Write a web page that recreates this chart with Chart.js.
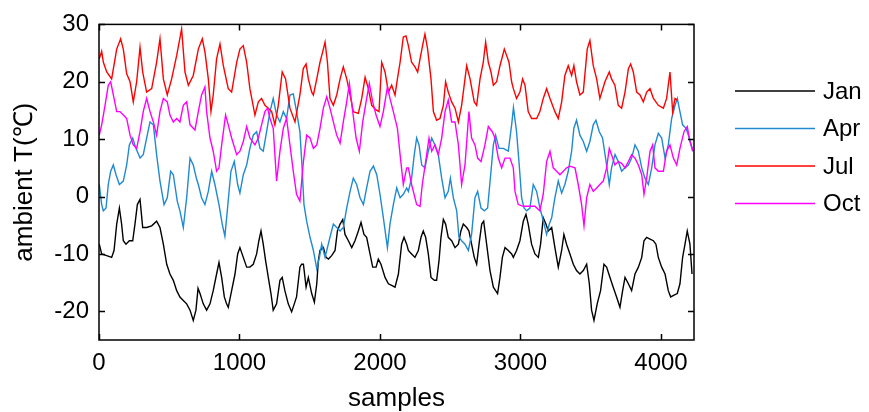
<!DOCTYPE html>
<html>
<head>
<meta charset="utf-8">
<script src="https://cdn.jsdelivr.net/npm/chart.js@4.4.0/dist/chart.umd.min.js"></script>
<style>
  html, body { margin: 0; padding: 0; background: #fff; }
  #wrap { width: 869px; height: 412px; }
</style>
</head>
<body>
<div id="wrap"><canvas id="tChart"></canvas></div>
<script>
// [sample, ambient temperature]
const jan = [[2,-8.3],[19,-10.0],[55,-10.3],[90,-10.6],[107,-9.4],[126,-4.8],[145,-2.0],[161,-4.8],[173,-7.7],[192,-8.3],[216,-7.7],[240,-7.7],[256,-4.8],[273,-1.4],[292,-0.5],[311,-5.4],[339,-5.4],[375,-5.1],[410,-4.3],[434,-5.4],[458,-8.3],[482,-11.8],[505,-13.5],[529,-14.6],[553,-16.4],[576,-17.5],[600,-18.1],[624,-18.7],[648,-19.8],[671,-21.6],[690,-19.8],[705,-16.0],[719,-16.9],[742,-18.7],[766,-19.8],[790,-18.7],[813,-16.4],[837,-13.5],[854,-11.5],[873,-14.1],[892,-17.5],[908,-18.7],[920,-19.3],[944,-16.4],[968,-13.5],[987,-10.0],[1003,-8.9],[1027,-10.6],[1051,-12.3],[1074,-12.3],[1098,-11.8],[1122,-10.0],[1138,-7.7],[1153,-6.0],[1169,-8.3],[1186,-11.2],[1205,-14.1],[1224,-16.9],[1240,-19.8],[1264,-18.7],[1288,-14.6],[1304,-14.1],[1323,-16.4],[1347,-18.7],[1371,-20.1],[1390,-18.7],[1406,-17.5],[1430,-12.3],[1442,-11.8],[1455,-11.8],[1474,-15.8],[1490,-14.1],[1514,-16.9],[1533,-18.4],[1550,-15.2],[1561,-11.2],[1573,-9.4],[1597,-8.9],[1616,-10.6],[1633,-10.9],[1656,-10.3],[1680,-9.4],[1697,-6.0],[1716,-4.8],[1735,-4.0],[1751,-6.6],[1775,-7.7],[1799,-8.9],[1822,-7.7],[1846,-6.0],[1865,-4.5],[1886,-6.6],[1905,-7.1],[1929,-10.0],[1948,-12.3],[1972,-12.3],[1988,-10.9],[2007,-11.8],[2036,-14.1],[2060,-15.2],[2083,-15.5],[2107,-15.8],[2131,-13.5],[2154,-8.3],[2171,-7.1],[2190,-8.3],[2202,-9.4],[2225,-10.0],[2249,-10.6],[2273,-9.4],[2292,-7.1],[2308,-6.0],[2325,-7.1],[2344,-10.0],[2363,-14.1],[2387,-14.6],[2403,-14.6],[2420,-11.2],[2434,-7.1],[2451,-4.0],[2467,-4.8],[2486,-7.1],[2510,-7.7],[2534,-8.9],[2558,-8.3],[2576,-6.0],[2593,-4.8],[2617,-5.4],[2633,-6.0],[2652,-8.3],[2671,-10.6],[2688,-11.8],[2705,-8.3],[2724,-4.8],[2738,-4.3],[2759,-8.3],[2783,-12.9],[2807,-15.8],[2823,-16.4],[2837,-16.9],[2854,-14.1],[2871,-10.6],[2890,-8.9],[2913,-9.4],[2937,-10.0],[2949,-10.6],[2972,-9.4],[2996,-7.7],[3020,-4.3],[3039,-3.1],[3055,-4.8],[3079,-8.3],[3103,-10.0],[3127,-10.6],[3143,-8.3],[3162,-3.7],[3181,-4.8],[3198,-6.0],[3222,-5.4],[3245,-8.9],[3269,-12.3],[3293,-9.4],[3309,-6.6],[3328,-8.3],[3352,-10.0],[3376,-11.8],[3399,-12.9],[3423,-13.5],[3447,-12.9],[3471,-11.8],[3490,-15.2],[3506,-19.8],[3523,-21.6],[3546,-18.7],[3570,-16.4],[3594,-11.8],[3613,-12.3],[3637,-14.1],[3660,-15.8],[3684,-17.5],[3708,-19.3],[3727,-16.4],[3744,-14.1],[3768,-15.2],[3791,-16.4],[3815,-13.5],[3839,-12.3],[3863,-10.6],[3879,-7.7],[3898,-7.1],[3922,-7.4],[3946,-7.7],[3964,-8.3],[3981,-10.6],[4005,-12.3],[4029,-13.5],[4052,-16.4],[4069,-17.5],[4093,-17.2],[4116,-16.9],[4135,-15.2],[4154,-10.6],[4171,-8.3],[4187,-6.0],[4206,-8.3],[4221,-13.5]];

const apr = [[2,2.1],[19,-1.4],[31,-2.5],[50,-2.0],[66,2.1],[83,4.4],[102,5.5],[121,3.8],[145,2.1],[173,2.7],[197,5.5],[216,9.0],[240,10.2],[263,8.4],[292,6.7],[315,7.3],[339,10.2],[363,13.0],[387,12.5],[410,7.3],[434,2.7],[463,-1.4],[486,-0.2],[510,4.4],[529,3.8],[557,-0.8],[576,-2.5],[600,-5.4],[624,-0.2],[648,6.7],[671,5.5],[695,3.0],[707,2.1],[730,-0.2],[754,-1.4],[778,0.9],[802,4.4],[825,2.1],[854,-1.4],[877,-4.8],[896,-6.9],[915,-2.0],[939,4.4],[963,6.1],[987,2.1],[1003,0.6],[1027,3.8],[1051,5.5],[1074,8.4],[1098,10.7],[1122,11.3],[1146,8.4],[1169,7.9],[1193,11.3],[1217,14.8],[1240,17.1],[1264,14.2],[1288,13.0],[1312,14.8],[1335,13.6],[1359,17.7],[1383,17.9],[1406,14.8],[1430,11.3],[1443,6.1],[1459,-1.4],[1478,-4.3],[1502,-7.1],[1526,-9.4],[1550,-12.6],[1569,-10.6],[1585,-8.3],[1609,-10.6],[1644,-7.1],[1668,-4.8],[1692,-5.4],[1716,-6.0],[1739,-5.4],[1763,-2.0],[1787,0.9],[1810,3.2],[1834,2.1],[1858,-0.2],[1882,-1.4],[1905,1.5],[1929,4.4],[1953,5.3],[1977,3.8],[2000,0.4],[2024,-3.7],[2053,-8.9],[2071,-4.8],[2095,-1.4],[2119,1.5],[2143,-0.2],[2166,0.4],[2190,1.5],[2202,0.9],[2225,3.2],[2244,7.3],[2261,10.2],[2278,9.0],[2297,5.5],[2320,5.0],[2344,7.9],[2368,10.2],[2391,9.0],[2415,7.3],[2439,3.2],[2463,-0.2],[2486,0.9],[2501,3.2],[2522,-0.2],[2546,-2.5],[2562,-7.1],[2581,-7.7],[2605,-8.3],[2629,-9.4],[2652,-6.6],[2676,-0.2],[2695,0.9],[2719,-2.0],[2743,-2.5],[2766,-2.0],[2790,4.4],[2807,9.0],[2823,10.7],[2847,8.4],[2878,8.4],[2913,7.9],[2937,12.5],[2950,15.5],[2972,11.3],[2991,5.5],[3008,-0.2],[3025,-2.0],[3044,-2.5],[3067,-2.0],[3091,2.1],[3115,0.9],[3138,-2.0],[3157,-3.7],[3186,-6.6],[3205,-4.8],[3222,-3.7],[3245,-0.2],[3269,2.7],[3293,0.6],[3316,2.1],[3340,4.4],[3364,7.9],[3380,11.9],[3399,13.3],[3423,10.7],[3447,9.6],[3471,7.9],[3494,9.6],[3518,12.5],[3537,13.3],[3561,11.3],[3584,10.2],[3613,5.5],[3632,2.1],[3648,5.0],[3673,7.3],[3696,6.1],[3720,4.4],[3744,5.0],[3768,5.5],[3791,6.7],[3815,9.0],[3839,7.9],[3863,5.0],[3886,3.2],[3910,2.1],[3934,5.0],[3957,9.0],[3981,11.0],[4005,10.2],[4029,6.7],[4052,9.0],[4076,13.6],[4100,15.9],[4116,17.1],[4135,14.8],[4154,12.5],[4178,11.9],[4202,10.2],[4225,7.9]];

const jul = [[2,24.0],[19,25.3],[31,23.4],[55,21.7],[90,20.5],[126,25.7],[154,27.5],[173,25.7],[197,21.4],[221,20.0],[244,16.5],[268,20.0],[292,26.0],[311,21.7],[339,18.2],[375,18.8],[410,23.4],[434,27.5],[458,20.5],[486,17.7],[517,20.5],[553,24.6],[588,29.2],[612,21.7],[636,19.4],[671,21.1],[707,25.7],[735,27.5],[754,25.2],[778,20.5],[797,14.8],[813,17.7],[837,24.0],[861,26.6],[885,22.8],[920,18.8],[944,18.2],[980,23.4],[1003,25.7],[1027,26.3],[1051,23.4],[1074,18.8],[1110,14.2],[1134,16.5],[1157,17.1],[1181,15.9],[1205,15.4],[1229,14.8],[1252,12.5],[1276,15.9],[1304,21.7],[1328,20.5],[1359,15.4],[1395,13.0],[1430,17.7],[1454,22.3],[1474,23.1],[1490,20.5],[1514,18.2],[1526,17.7],[1550,20.5],[1573,23.4],[1597,25.7],[1609,26.9],[1626,23.4],[1644,17.1],[1668,15.9],[1692,17.7],[1716,20.5],[1739,22.6],[1763,20.5],[1787,17.7],[1810,14.8],[1846,14.5],[1870,17.1],[1894,20.8],[1917,18.8],[1941,15.9],[1972,15.1],[1993,14.8],[2012,23.4],[2036,21.7],[2060,18.2],[2083,19.4],[2107,17.7],[2124,20.5],[2143,23.4],[2166,27.8],[2185,28.0],[2202,26.3],[2225,23.4],[2249,22.6],[2268,21.7],[2285,24.0],[2308,26.9],[2320,28.3],[2339,25.7],[2363,20.5],[2380,14.8],[2403,13.3],[2427,13.6],[2451,15.9],[2467,20.0],[2486,18.2],[2510,16.5],[2534,15.4],[2558,13.0],[2581,15.9],[2605,20.5],[2617,22.8],[2641,20.5],[2671,16.5],[2688,15.9],[2712,20.5],[2735,23.4],[2752,26.9],[2771,23.4],[2790,21.7],[2807,19.4],[2830,20.0],[2854,22.8],[2885,25.7],[2901,24.6],[2918,23.4],[2937,20.0],[2949,18.8],[2972,17.1],[2996,18.2],[3015,20.5],[3032,19.4],[3055,14.8],[3079,13.6],[3115,13.6],[3138,14.8],[3162,17.1],[3186,18.8],[3210,17.1],[3245,14.8],[3269,13.6],[3293,16.5],[3316,21.1],[3340,22.8],[3364,21.1],[3380,22.8],[3399,20.0],[3423,17.7],[3447,18.2],[3475,25.7],[3494,27.2],[3518,22.8],[3542,20.5],[3565,17.1],[3601,20.0],[3632,21.7],[3648,20.5],[3672,19.4],[3696,15.9],[3720,15.4],[3744,18.2],[3768,22.3],[3784,23.1],[3803,21.7],[3827,18.2],[3851,17.7],[3874,16.5],[3898,18.2],[3922,18.8],[3946,17.1],[3981,15.9],[4017,15.4],[4040,17.1],[4064,21.7],[4083,14.8],[4100,17.1],[4116,16.8]];

const oct = [[2,10.7],[19,12.5],[43,15.9],[66,19.4],[83,20.0],[102,17.7],[126,14.8],[149,14.8],[173,14.2],[197,13.6],[221,10.7],[244,9.0],[268,8.4],[292,11.3],[315,14.8],[339,17.1],[363,14.8],[387,13.0],[410,10.7],[434,14.8],[458,17.1],[486,16.5],[505,14.2],[529,13.0],[553,13.6],[576,13.0],[600,15.9],[624,16.5],[648,12.5],[683,11.6],[707,14.8],[730,17.7],[754,19.1],[766,14.8],[790,10.2],[813,7.9],[837,4.4],[854,5.0],[873,9.0],[901,14.2],[920,12.5],[944,10.2],[980,7.3],[1003,7.9],[1027,9.6],[1051,12.2],[1074,10.2],[1110,9.0],[1134,10.2],[1157,12.5],[1181,14.8],[1200,15.4],[1217,13.6],[1240,11.9],[1264,2.7],[1288,7.9],[1312,11.9],[1335,13.6],[1359,9.0],[1383,4.4],[1406,0.4],[1430,-0.8],[1455,6.1],[1478,10.7],[1502,10.2],[1526,8.4],[1550,9.0],[1573,11.9],[1597,15.4],[1621,17.4],[1644,15.4],[1668,13.0],[1692,10.7],[1716,9.3],[1739,13.0],[1763,16.5],[1782,19.7],[1806,14.8],[1830,10.2],[1853,7.9],[1877,13.0],[1901,16.5],[1924,19.7],[1948,16.5],[1972,14.2],[2000,12.2],[2024,14.8],[2053,19.1],[2071,17.1],[2095,14.8],[2124,11.9],[2143,7.3],[2166,2.1],[2190,5.0],[2202,5.0],[2225,2.1],[2261,-1.4],[2285,-1.7],[2301,2.1],[2325,6.1],[2349,10.2],[2368,7.9],[2391,9.0],[2415,7.3],[2439,10.2],[2463,14.8],[2486,16.8],[2510,13.0],[2534,13.0],[2558,9.0],[2581,2.1],[2605,5.5],[2633,14.8],[2652,10.2],[2676,9.0],[2695,6.7],[2719,6.1],[2747,9.0],[2771,12.2],[2799,11.3],[2818,10.2],[2842,6.7],[2866,5.0],[2890,6.7],[2925,6.7],[2949,5.0],[2961,0.9],[2984,-1.4],[3020,-1.7],[3055,-1.7],[3103,-1.7],[3138,-2.5],[3162,0.4],[3186,6.1],[3210,7.9],[3233,5.0],[3257,4.4],[3281,3.8],[3305,4.4],[3328,5.0],[3352,5.3],[3388,5.0],[3411,2.1],[3435,-1.4],[3452,-5.1],[3471,-0.2],[3494,2.1],[3518,0.9],[3542,1.5],[3565,2.1],[3589,2.7],[3613,5.0],[3632,8.4],[3648,7.3],[3672,5.5],[3696,6.1],[3720,5.8],[3744,5.0],[3768,6.1],[3791,7.3],[3815,6.7],[3839,5.5],[3863,3.8],[3879,0.4],[3898,3.2],[3922,7.9],[3941,9.0],[3957,5.0],[3981,4.4],[4017,4.4],[4040,7.9],[4064,9.0],[4088,6.7],[4112,5.5],[4135,8.4],[4164,11.3],[4187,12.2],[4206,9.6],[4230,7.9]];

const months = ['Jan', 'Apr', 'Jul', 'Oct'];
const colors = ['#000000', '#1f8ad2', '#ff0000', '#ff00ff'];
const xTicks = [0, 1000, 2000, 3000, 4000];
const yTicks = [-20, -10, 0, 10, 20, 30];

const FONT = "'Liberation Sans', Arial, sans-serif";

// box round the axes, inward tick marks, legend on the right
const frame = {
  id: 'frame',
  afterDraw(chart) {
    const {ctx, chartArea: a, scales: {x, y}} = chart;
    ctx.save();
    ctx.strokeStyle = '#000';
    ctx.lineWidth = 1.5;
    ctx.strokeRect(a.left, a.top, a.right - a.left, a.bottom - a.top);
    ctx.beginPath();
    xTicks.forEach(v => {
      const px = Math.round(x.getPixelForValue(v)) + 0.5;
      ctx.moveTo(px, a.bottom); ctx.lineTo(px, a.bottom - 6);
      ctx.moveTo(px, a.top); ctx.lineTo(px, a.top + 6);
    });
    yTicks.forEach(v => {
      const py = Math.round(y.getPixelForValue(v)) + 0.5;
      ctx.moveTo(a.left, py); ctx.lineTo(a.left + 6, py);
      ctx.moveTo(a.right, py); ctx.lineTo(a.right - 6, py);
    });
    ctx.stroke();

    ctx.font = '24px ' + FONT;
    ctx.textBaseline = 'middle';
    ctx.fillStyle = '#000';
    chart.data.datasets.forEach((ds, i) => {
      const ly = 91 + i * 37.5;
      ctx.strokeStyle = ds.borderColor;
      ctx.lineWidth = 1.5;
      ctx.beginPath();
      ctx.moveTo(735, ly); ctx.lineTo(815, ly);
      ctx.stroke();
      ctx.fillText(ds.label, 823, ly + 1);
    });
    ctx.restore();
  }
};

const series = [jan, apr, jul, oct];

new Chart(document.getElementById('tChart'), {
  type: 'line',
  data: {
    datasets: series.map((d, i) => ({
      label: months[i],
      data: d,
      borderColor: colors[i],
      borderWidth: 1.4,
      pointRadius: 0,
      tension: 0,
      order: 3 - i
    }))
  },
  options: {
    responsive: true,
    maintainAspectRatio: false,
    animation: false,
    events: [],
    layout: { padding: { top: 22, right: 175, bottom: 0, left: 0 } },
    plugins: { legend: { display: false }, tooltip: { enabled: false } },
    scales: {
      x: {
        type: 'linear',
        min: 0,
        max: 4235,
        afterBuildTicks: s => { s.ticks = xTicks.map(v => ({value: v})); },
        afterFit: s => { s.height = 72; },
        grid: { display: false, drawTicks: false },
        border: { display: false },
        ticks: { color: '#000', padding: 9, maxRotation: 0, font: { family: FONT, size: 24 }, callback: v => String(v) },
        title: { display: true, text: 'samples', color: '#000', padding: { top: 0, bottom: 0 }, font: { family: FONT, size: 26, lineHeight: 1 } }
      },
      y: {
        min: -25,
        max: 30,
        afterBuildTicks: s => { s.ticks = yTicks.map(v => ({value: v})); },
        afterFit: s => { s.width = 99; },
        grid: { display: false, drawTicks: false },
        border: { display: false },
        ticks: { color: '#000', padding: 10, font: { family: FONT, size: 24 }, callback: v => String(v) },
        title: { display: true, text: 'ambient T(℃)', color: '#000', padding: { top: 9, bottom: 0 }, font: { family: FONT, size: 26 } }
      }
    }
  },
  plugins: [frame]
});
</script>
</body>
</html>
